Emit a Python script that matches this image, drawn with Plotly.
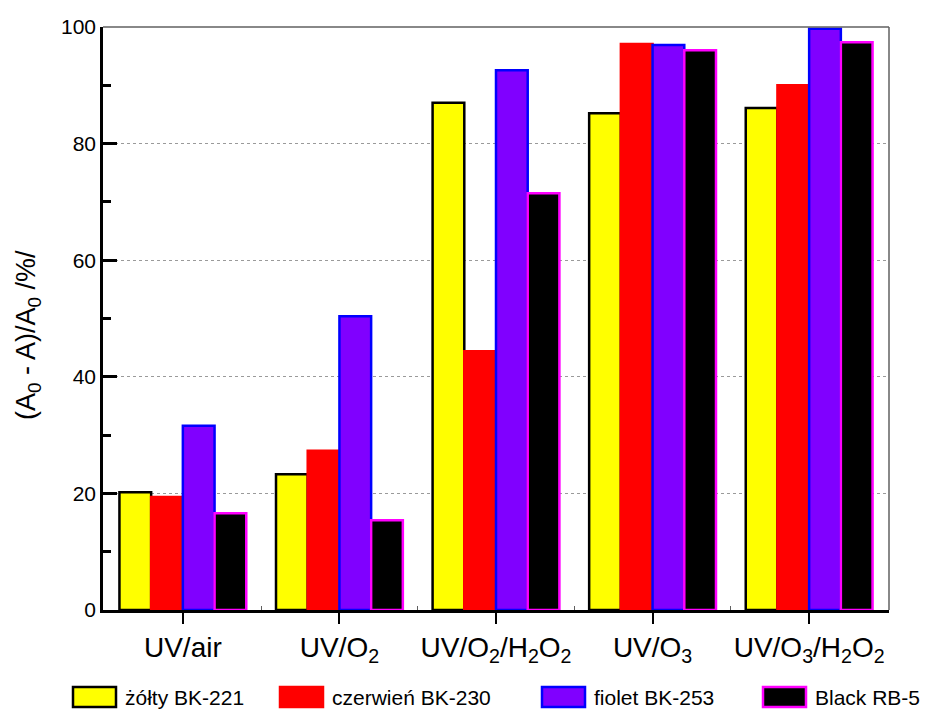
import plotly.graph_objects as go

# Degradation efficiency of dyes for each oxidation process
processes = ["UV/air", "UV/O<sub>2</sub>", "UV/O<sub>2</sub>/H<sub>2</sub>O<sub>2</sub>",
             "UV/O<sub>3</sub>", "UV/O<sub>3</sub>/H<sub>2</sub>O<sub>2</sub>"]
series_names = ["żółty BK-221", "czerwień BK-230", "fiolet BK-253", "Black RB-5"]
zolty = [20.2, 23.3, 87.0, 85.2, 86.1]
czerwien = [19.4, 27.3, 44.4, 97.1, 90.0]
fiolet = [31.6, 50.4, 92.6, 96.9, 99.7]
black = [16.6, 15.4, 71.5, 96.0, 97.4]
y_ticks = [0, 20, 40, 60, 80, 100]

fills = ["#FFFF00", "#FF0000", "#8000FF", "#000000"]
edges = ["#000000", "#FF0000", "#0000FF", "#FF00FF"]
values = [zolty, czerwien, fiolet, black]

FONT = "Arial, Liberation Sans, sans-serif"
W, H = 925, 709
L, R, T, B = 103, 889, 27, 610

x_pos = list(range(len(processes)))

fig = go.Figure()
for name, vals, fc, ec in zip(series_names, values, fills, edges):
    fig.add_trace(go.Bar(
        x=x_pos, y=vals, name=name,
        marker=dict(color=fc, line=dict(color=ec, width=2.5)),
        showlegend=False,
    ))


def px(x):
    return (x - L) / (R - L)


def py(y):
    return (B - y) / (B - T)


shapes = [
    # thin grey frame on top and right
    dict(type="line", xref="paper", yref="paper", x0=0, x1=1, y0=1, y1=1,
         line=dict(color="#606060", width=1.5)),
    dict(type="line", xref="paper", yref="paper", x0=1, x1=1, y0=0, y1=1,
         line=dict(color="#606060", width=1.5)),
]

# y-axis title, placed as a rotated annotation
annotations = [dict(xref="paper", yref="paper", x=px(28), y=py(335),
                    text="(A<sub>0</sub> - A)/A<sub>0</sub> /%/", textangle=-90,
                    showarrow=False, xanchor="center", yanchor="middle",
                    font=dict(family=FONT, size=27, color="black"))]

# legend row below the axis
legend_x = [73, 280, 542, 763]
for name, fc, ec, lx in zip(series_names, fills, edges, legend_x):
    shapes.append(dict(type="rect", xref="paper", yref="paper",
                       x0=px(lx), x1=px(lx + 43), y0=py(707), y1=py(687),
                       fillcolor=fc, line=dict(color=ec, width=2.5)))
    annotations.append(dict(xref="paper", yref="paper", x=px(lx + 50), y=py(697),
                            text=name, showarrow=False, xanchor="left", yanchor="middle",
                            font=dict(family=FONT, size=21, color="black")))

fig.update_layout(
    width=W, height=H,
    margin=dict(l=L, r=W - R, t=T, b=H - B),
    paper_bgcolor="white", plot_bgcolor="white",
    barmode="group", bargap=0.19, bargroupgap=0,
    font=dict(family=FONT, color="black"),
    shapes=shapes, annotations=annotations,
    xaxis=dict(
        range=[-0.51, 4.51], tickmode="array", tickvals=x_pos, ticktext=processes,
        ticks="outside", ticklen=11, tickwidth=2, tickcolor="black",
        tickfont=dict(family=FONT, size=28, color="black"),
        showline=True, linecolor="black", linewidth=2.5,
        showgrid=False, zeroline=False,
        minor=dict(tickmode="array", tickvals=[0.5, 1.5, 2.5, 3.5], ticks="inside",
                   ticklen=4, tickwidth=1, tickcolor="#606060", showgrid=False),
    ),
    yaxis=dict(
        range=[0, 100], tickmode="array", tickvals=y_ticks,
        ticks="inside", ticklen=14, tickwidth=2.5, tickcolor="black",
        tickfont=dict(family=FONT, size=21, color="black"),
        showline=True, linecolor="black", linewidth=2.5,
        showgrid=True, gridcolor="#9a9a9a", griddash="dot", gridwidth=1,
        zeroline=False,
        minor=dict(dtick=10, tick0=10, ticks="inside", ticklen=8, tickwidth=2.5,
                   tickcolor="black", showgrid=False),
    ),
)

fig.write_html("out.html")
